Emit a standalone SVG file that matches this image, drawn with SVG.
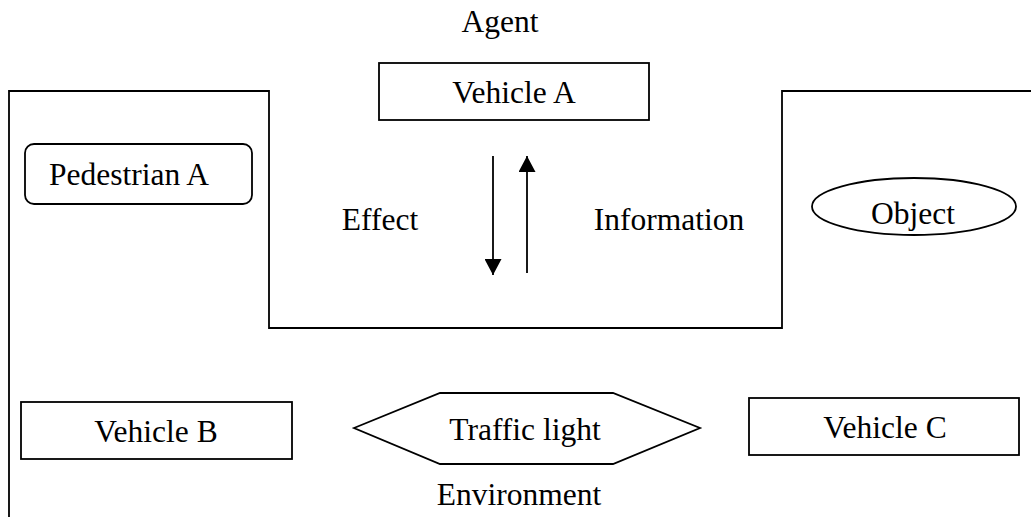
<svg xmlns="http://www.w3.org/2000/svg" width="1031" height="517" viewBox="0 0 1031 517">
<style>
.s{fill:#fff;stroke:#000;stroke-width:1.8}
.l{fill:none;stroke:#000;stroke-width:1.8}
text{font-family:"Liberation Serif","Times New Roman",serif;font-size:31.5px;fill:#000;text-anchor:middle}
</style>
<defs>
<marker id="ah" markerWidth="16" markerHeight="17" refX="16" refY="8.5" orient="auto" markerUnits="userSpaceOnUse">
<path d="M0,0 L16,8.5 L0,17 Z" fill="#000"/>
</marker>
</defs>
<rect width="1031" height="517" fill="#fff"/>
<g id="boundary">
<path class="l" d="M9,517 L9,91 L269,91 L269,328 L782,328 L782,91 L1031,91"/>
<text x="500" y="32">Agent</text>
<text x="519" y="505">Environment</text>
</g>
<g id="vehicleA">
<rect class="s" x="379" y="63" width="270" height="57"/>
<text x="514" y="103">Vehicle A</text>
</g>
<g id="pedestrianA">
<rect class="s" x="25" y="144" width="227" height="60" rx="9"/>
<text x="129" y="185">Pedestrian A</text>
</g>
<g id="object">
<ellipse class="s" cx="914" cy="206.5" rx="102" ry="28.5"/>
<text x="913" y="224">Object</text>
</g>
<g id="vehicleB">
<rect class="s" x="21" y="402" width="271" height="57"/>
<text x="156" y="442">Vehicle B</text>
</g>
<g id="trafficLight">
<polygon class="s" points="354,428 440,393 613,393 700,428 613,464 440,464"/>
<text x="525" y="440">Traffic light</text>
</g>
<g id="vehicleC">
<rect class="s" x="749" y="398" width="270" height="57"/>
<text x="885" y="438">Vehicle C</text>
</g>
<g id="connectors">
<line class="l" x1="493" y1="156" x2="493" y2="275" marker-end="url(#ah)"/>
<line class="l" x1="527" y1="273" x2="527" y2="156" marker-end="url(#ah)"/>
<text x="380" y="230">Effect</text>
<text x="669" y="230">Information</text>
</g>
</svg>
